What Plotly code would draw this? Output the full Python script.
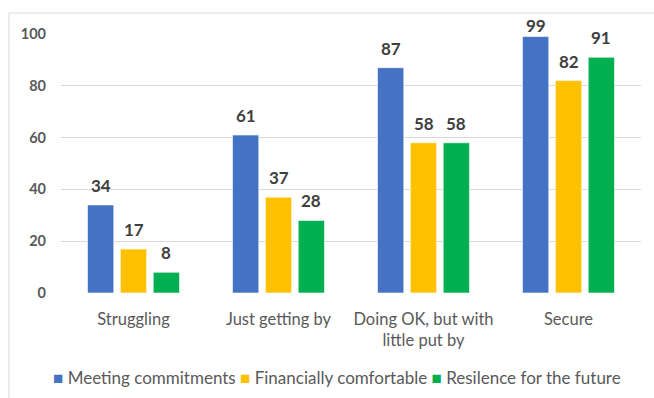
import plotly.graph_objects as go

categories = ["Struggling", "Just getting by", "Doing OK, but with<br>little put by", "Secure"]
meeting_commitments = [34, 61, 87, 99]
financially_comfortable = [17, 37, 58, 82]
resilience_future = [8, 28, 58, 91]
y_ticks = [0, 20, 40, 60, 80, 100]

series = [
    ("Meeting commitments", meeting_commitments, "#4472C4"),
    ("Financially comfortable", financially_comfortable, "#FFC000"),
    ("Resilence for the future", resilience_future, "#00B050"),
]

FONT = "Lato, 'Open Sans', sans-serif"
W, H = 654, 398
M = dict(l=61, r=13, t=34, b=105)
BARGAP, GROUPGAP = 0.32, 0.2
Y_MAX = 100

fig = go.Figure()
for name, vals, color in series:
    fig.add_trace(go.Bar(
        name=name,
        x=categories,
        y=vals,
        marker=dict(color=color, line=dict(color="rgba(255,255,255,0.6)", width=1)),
        showlegend=False,
        cliponaxis=False,
    ))

# value labels sit above each bar, centred on its slot within the group;
# labels near the top are pulled down so they stay inside the chart frame
plot_w = W - M["l"] - M["r"]
plot_h = H - M["t"] - M["b"]
slot = plot_w / len(categories) * (1 - BARGAP) / len(series)
LABEL_BOX = 21
TOP_LIMIT = 17
annotations = []
for i, (name, vals, color) in enumerate(series):
    shift = (i - (len(series) - 1) / 2) * slot
    for cat, v in zip(categories, vals):
        bar_top = M["t"] + plot_h * (1 - v / Y_MAX)
        yshift = min(7, bar_top - LABEL_BOX - TOP_LIMIT)
        annotations.append(dict(
            x=cat, y=v, xref="x", yref="y",
            text=str(v), showarrow=False,
            xshift=shift, yshift=yshift, yanchor="bottom",
            font=dict(family=FONT, size=17, color="#404040", weight="bold"),
        ))

# legend row: coloured square followed by the series name
legend_text = "&nbsp;".join(
    f"<span style='color:{color}'>■</span> {name}" for name, _, color in series
)
annotations.append(dict(
    x=0.476, y=-0.328, xref="paper", yref="paper",
    xanchor="center", yanchor="middle",
    text=legend_text, showarrow=False,
    font=dict(family=FONT, size=17, color="#595959"),
))

fig.update_layout(
    width=W,
    height=H,
    margin=M,
    paper_bgcolor="white",
    plot_bgcolor="white",
    barmode="group",
    bargap=BARGAP,
    bargroupgap=GROUPGAP,
    font=dict(family=FONT, color="#595959"),
    showlegend=False,
    xaxis=dict(
        type="category",
        tickfont=dict(family=FONT, size=16.5, color="#595959"),
        showline=False,
        ticks="",
        ticklabelstandoff=14,
        automargin=False,
    ),
    yaxis=dict(
        range=[0, Y_MAX],
        tickvals=y_ticks,
        tickfont=dict(family=FONT, size=14.5, color="#595959", weight="bold"),
        showgrid=True,
        gridcolor="#d9d9d9",
        gridwidth=1,
        zeroline=False,
        ticklabelstandoff=14,
        automargin=False,
    ),
    annotations=annotations,
    shapes=[dict(
        type="rect",
        xref="paper", yref="paper",
        x0=-0.0897, x1=1.2, y0=-0.6, y1=1.081,
        line=dict(color="#d9d9d9", width=1),
        fillcolor="rgba(0,0,0,0)",
        layer="below",
    )],
)

fig.write_html("out.html")
